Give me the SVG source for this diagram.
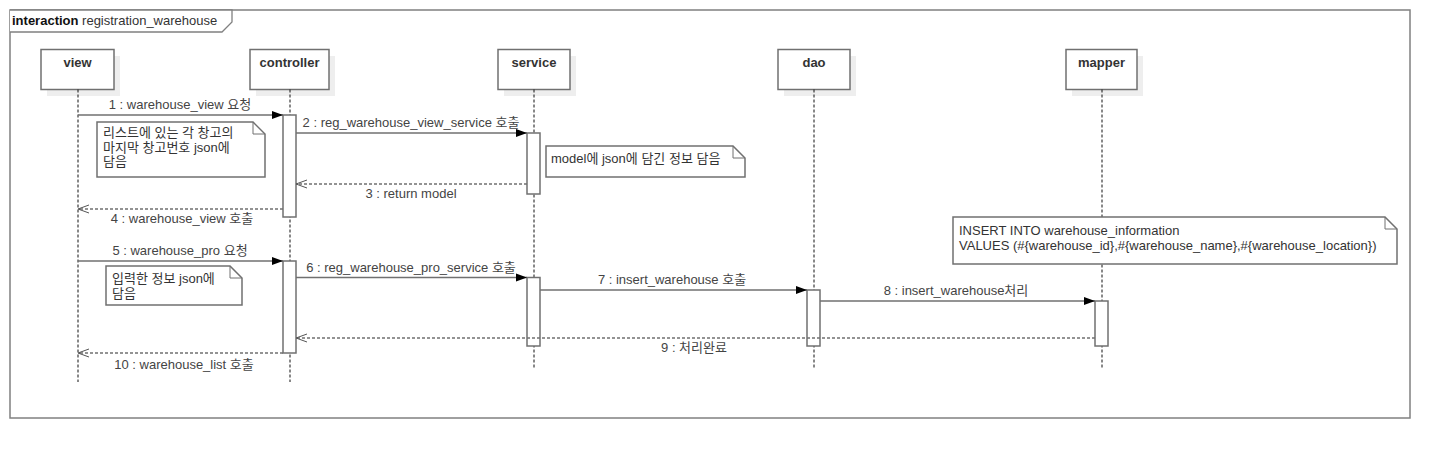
<svg xmlns="http://www.w3.org/2000/svg" width="1450" height="458" viewBox="0 0 1450 458">
<style>
text{font-family:"Liberation Sans","Noto Sans CJK KR",sans-serif;font-size:13px;fill:#333}
.head{font-weight:bold;text-anchor:middle}
.lbl{text-anchor:middle;fill:#444}
.box{fill:#fff;stroke:#707070;stroke-width:1.5}
.shadow{fill:#eeeeee}
.life{stroke:#111;stroke-width:1;stroke-dasharray:3,2;fill:none}
.act{fill:#fff;stroke:#707070;stroke-width:1.5}
.msg{stroke:#707070;stroke-width:1.5;fill:none}
.ret{stroke:#707070;stroke-width:1.5;fill:none;stroke-dasharray:3,2}
.note{fill:#fff;stroke:#707070;stroke-width:1.5}
.fold{fill:none;stroke:#707070;stroke-width:1}
</style>
<defs>
<marker id="sync" markerWidth="12" markerHeight="10" refX="11" refY="5" orient="auto" markerUnits="userSpaceOnUse">
<path d="M0,1 L11,5 L0,9 Z" fill="#000"/>
</marker>
<marker id="open" markerWidth="12" markerHeight="10" refX="11" refY="5" orient="auto" markerUnits="userSpaceOnUse">
<path d="M0,1 L11,5 L0,9" fill="none" stroke="#555" stroke-width="1"/>
</marker>
</defs>
<rect x="0" y="0" width="1450" height="458" fill="#fff"/>
<g id="frame">
<rect x="10" y="10" width="1400" height="408" fill="none" stroke="#808080" stroke-width="1.5"/>
<path d="M10,10 L232,10 L232,22 L222,32 L10,32" fill="#fff" stroke="#808080" stroke-width="1.3"/>
<text x="12" y="25"><tspan font-weight="bold" fill="#111">interaction</tspan> registration_warehouse</text>
</g>
<g id="view">
<rect class="shadow" x="47" y="56" width="73" height="40"/>
<rect class="box" x="41" y="49.5" width="73" height="40"/>
<text class="head" x="77.5" y="67">view</text>
<line class="life" x1="78" y1="89.5" x2="78" y2="382"/>
</g>
<g id="controller">
<rect class="shadow" x="256" y="56" width="79" height="40"/>
<rect class="box" x="250" y="49.5" width="79" height="40"/>
<text class="head" x="289.5" y="67">controller</text>
<line class="life" x1="290" y1="89.5" x2="290" y2="382"/>
<rect class="act" x="283" y="115" width="13" height="102"/>
<rect class="act" x="283" y="261" width="13" height="92"/>
</g>
<g id="service">
<rect class="shadow" x="504" y="56" width="72" height="40"/>
<rect class="box" x="498" y="49.5" width="72" height="40"/>
<text class="head" x="534" y="67">service</text>
<line class="life" x1="534" y1="89.5" x2="534" y2="369"/>
<rect class="act" x="527" y="133" width="13" height="61"/>
<rect class="act" x="527" y="277.5" width="13" height="68.5"/>
</g>
<g id="dao">
<rect class="shadow" x="784" y="56" width="72" height="40"/>
<rect class="box" x="778" y="49.5" width="72" height="40"/>
<text class="head" x="814" y="67">dao</text>
<line class="life" x1="814" y1="89.5" x2="814" y2="369"/>
<rect class="act" x="807" y="290" width="13" height="56"/>
</g>
<g id="mapper">
<rect class="shadow" x="1072" y="56" width="71" height="40"/>
<rect class="box" x="1066" y="49.5" width="71" height="40"/>
<text class="head" x="1101.5" y="67">mapper</text>
<line class="life" x1="1102" y1="89.5" x2="1102" y2="369"/>
<rect class="act" x="1095" y="301" width="13" height="45"/>
</g>
<g id="connectors">
<line class="msg" x1="78" y1="115" x2="283" y2="115" marker-end="url(#sync)"/>
<text class="lbl" x="180" y="109">1 : warehouse_view 요청</text>
<line class="msg" x1="296" y1="133" x2="527" y2="133" marker-end="url(#sync)"/>
<text class="lbl" x="411" y="127">2 : reg_warehouse_view_service 호출</text>
<line class="ret" x1="527" y1="184" x2="296" y2="184" marker-end="url(#open)"/>
<text class="lbl" x="411" y="198">3 : return model</text>
<line class="ret" x1="283" y1="209" x2="78" y2="209" marker-end="url(#open)"/>
<text class="lbl" x="182" y="223">4 : warehouse_view 호출</text>
<line class="msg" x1="78" y1="261" x2="283" y2="261" marker-end="url(#sync)"/>
<text class="lbl" x="180" y="255">5 : warehouse_pro 요청</text>
<line class="msg" x1="296" y1="277.5" x2="527" y2="277.5" marker-end="url(#sync)"/>
<text class="lbl" x="411" y="272">6 : reg_warehouse_pro_service 호출</text>
<line class="msg" x1="540" y1="290" x2="807" y2="290" marker-end="url(#sync)"/>
<text class="lbl" x="672" y="284">7 : insert_warehouse 호출</text>
<line class="msg" x1="820" y1="301" x2="1095" y2="301" marker-end="url(#sync)"/>
<text class="lbl" x="956" y="295">8 : insert_warehouse처리</text>
<line class="ret" x1="1095" y1="338" x2="296" y2="338" marker-end="url(#open)"/>
<text class="lbl" x="694" y="352">9 : 처리완료</text>
<line class="ret" x1="283" y1="353" x2="78" y2="353" marker-end="url(#open)"/>
<text class="lbl" x="184" y="369">10 : warehouse_list 호출</text>
</g>
<g id="note1">
<path class="note" d="M97,122 L253,122 L265,134 L265,177 L97,177 Z"/>
<path class="fold" d="M253,122 L253,134 L265,134"/>
<text x="103" y="137">리스트에 있는 각 창고의</text>
<text x="103" y="151.5">마지막 창고번호 json에</text>
<text x="103" y="166">담음</text>
</g>
<g id="note2">
<path class="note" d="M106,266 L230,266 L242,278 L242,305 L106,305 Z"/>
<path class="fold" d="M230,266 L230,278 L242,278"/>
<text x="112" y="283">입력한 정보 json에</text>
<text x="112" y="297.5">담음</text>
</g>
<g id="note3">
<path class="note" d="M546,146 L733,146 L745,158 L745,177 L546,177 Z"/>
<path class="fold" d="M733,146 L733,158 L745,158"/>
<text x="551" y="163">model에 json에 담긴 정보 담음</text>
</g>
<g id="note4">
<path class="note" d="M953,217 L1385,217 L1397,229 L1397,264 L953,264 Z"/>
<path class="fold" d="M1385,217 L1385,229 L1397,229"/>
<text x="959" y="235">INSERT INTO warehouse_information</text>
<text x="959" y="250">VALUES (#{warehouse_id},#{warehouse_name},#{warehouse_location})</text>
</g>
</svg>
